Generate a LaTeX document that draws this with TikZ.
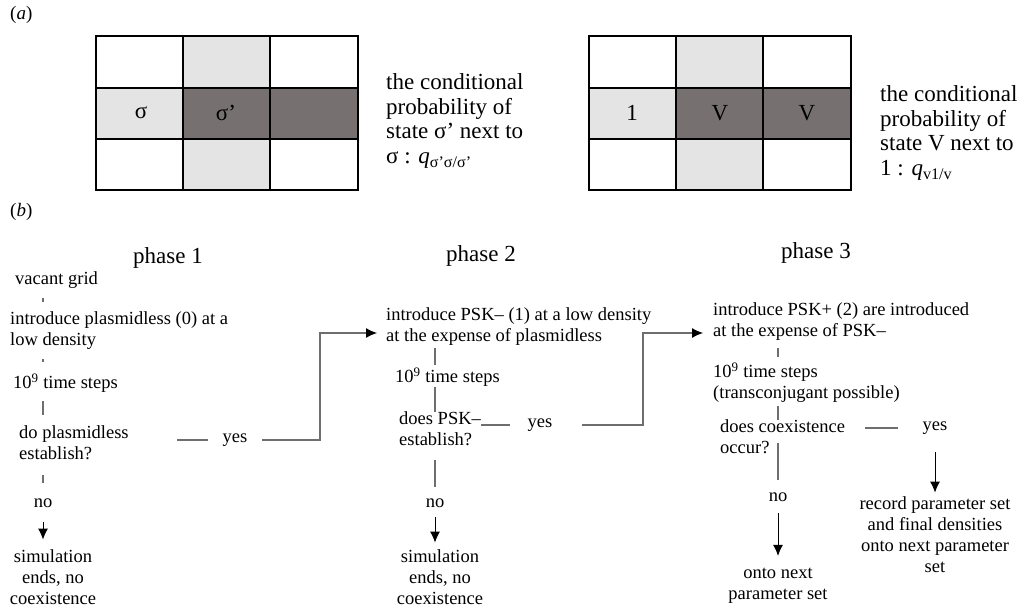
\documentclass[tikz,border=0pt]{standalone}
\usepackage{fontspec}
\setmainfont{Liberation Serif}
\usetikzlibrary{positioning, arrows.meta, calc}
\definecolor{cellLight}{HTML}{E4E4E4}
\definecolor{cellDark}{HTML}{767170}
\definecolor{wire}{HTML}{6E6E6E}

\begin{document}
\begin{tikzpicture}[x=1pt, y=-1pt,
    txt/.style={font=\fontsize{18.5}{21}\selectfont, inner sep=0pt, align=left},
    mid/.style={txt, align=center},
    big/.style={font=\fontsize{23}{24.5}\selectfont, inner sep=0pt, align=left},
    lbl/.style={font=\fontsize{19}{21}\selectfont, inner sep=0pt},
    gridline/.style={line width=1.4pt},
    wire/.style={draw=wire, line width=1.1pt},
    feed/.style={wire, -{Latex[length=11pt, width=10pt, color=black]}},
    down/.style={line width=1pt, -{Latex[length=11pt, width=10pt]}},
]
\useasboundingbox (0,0) rectangle (1024,607);

% (a) neighbourhood grids
\node[lbl, anchor=west] (lbla) at (10,15) {(\textit{a})};
\foreach \gx in {96,589} {
  \begin{scope}[shift={(\gx,36)}]
    \fill[cellLight] (87,0) rectangle (174,154);
    \fill[cellLight] (0,52) rectangle (87,103);
    \fill[cellDark] (87,52) rectangle (262,103);
    \draw[gridline] (0,0) rectangle (262,154);
    \foreach \cx in {87,174} \draw[gridline] (\cx,0) -- (\cx,154);
    \foreach \cy in {52,103} \draw[gridline] (0,\cy) -- (262,\cy);
  \end{scope}
}
\node[big] (sigA) at (141,113) {σ};
\node[big] (sigB) at (226,113) {σ’};
\node[big] (oneA) at (632,113) {1};
\node[big] (vA) at (720,113) {V};
\node[big] (vB) at (807,113) {V};
\node[big, anchor=west] (capA) at (386,121) {the conditional\\probability of\\state σ’ next to\\σ : \textit{q}\textsubscript{σ’σ/σ’}};
\node[big, anchor=west] (capB) at (880,133) {the conditional\\probability of\\state V next to\\1 : \textit{q}\textsubscript{v1/v}};

% (b) the three phases
\node[lbl, anchor=west] (lblb) at (10,212) {(\textit{b})};
\node[big] (ph1) at (168,258) {phase 1};
\node[big] (ph2) at (481,256) {phase 2};
\node[big] (ph3) at (816,253) {phase 3};

% phase 1
\node[txt, anchor=west] (vac) at (15,280) {vacant grid};
\node[txt, anchor=west] (intro1) at (10,331) {introduce plasmidless (0) at a\\low density};
\node[txt, anchor=west] (steps1) at (13,383) {10\textsuperscript{9} time steps};
\node[txt, anchor=west] (ask1) at (19,443) {do plasmidless\\establish?};
\node[txt] (yes1) at (235,440) {yes};
\node[txt] (no1) at (43,503) {no};
\node[mid] (end1) at (53,577) {simulation\\ends, no\\coexistence};

% phase 2
\node[txt, anchor=west] (intro2) at (386,327) {introduce PSK– (1) at a low density\\at the expense of plasmidless};
\node[txt, anchor=west] (steps2) at (395,377) {10\textsuperscript{9} time steps};
\node[txt, anchor=west] (ask2) at (399,429) {does PSK–\\establish?};
\node[txt] (yes2) at (540,425) {yes};
\node[txt] (no2) at (435,503) {no};
\node[mid] (end2) at (440,577) {simulation\\ends, no\\coexistence};

% phase 3
\node[txt, anchor=west] (intro3) at (713,322) {introduce PSK+ (2) are introduced\\at the expense of PSK–};
\node[txt, anchor=west] (steps3) at (713,383) {10\textsuperscript{9} time steps\\(transconjugant possible)};
\node[txt, anchor=west] (ask3) at (720,437) {does coexistence\\occur?};
\node[txt] (yes3) at (935,428) {yes};
\node[txt] (no3) at (778,497) {no};
\node[mid] (end3) at (778,586) {onto next\\parameter set};
\node[mid] (rec3) at (935,535) {record parameter set\\and final densities\\onto next parameter\\set};

% connectors, phase 1
\coordinate (c1) at (43,0);
\draw[wire, shorten <=9.5pt, shorten >=9.5pt] (vac.south -| c1) -- (intro1.north -| c1);
\draw[wire, shorten <=9pt, shorten >=11pt] (intro1.south -| c1) -- (steps1.north -| c1);
\draw[wire, shorten <=8.7pt, shorten >=11pt] (steps1.south -| c1) -- (ask1.north -| c1);
\draw[wire, shorten <=15pt, shorten >=15.7pt] (ask1.south -| c1) -- (no1.north);
\draw[down, shorten <=14.7pt, shorten >=9.7pt] (no1.south) -- (end1.north -| c1);
\draw[wire, shorten <=48.5pt, shorten >=14.6pt] (ask1.east |- yes1) -- (yes1.west);
\coordinate (r1) at (320,333);
\draw[feed, shorten <=14.6pt, shorten >=9pt] (yes1.east) -| (r1) -- (r1 -| intro2.west);

% connectors, phase 2
\coordinate (c2) at (435,0);
\draw[wire, shorten <=2pt, shorten >=2pt] (intro2.south -| c2) -- (steps2.north -| c2);
\draw[wire] (steps2.south -| c2) -- (ask2.north -| c2);
\draw[wire, shorten <=14pt, shorten >=11.7pt] (ask2.south -| c2) -- (no2.north);
\draw[down, shorten <=9.7pt, shorten >=6.7pt] (no2.south) -- (end2.north -| c2);
\draw[wire, shorten >=17pt] (ask2.east |- yes2) -- (yes2.west);
\coordinate (r2) at (643,333);
\draw[feed, shorten <=29.6pt, shorten >=10pt] (yes2.east) -| (r2) -- (r2 -| intro3.west);

% connectors, phase 3
\coordinate (c3) at (778,0);
\draw[wire, shorten <=7.2pt, shorten >=6.2pt] (intro3.south -| c3) -- (steps3.north -| c3);
\draw[wire, shorten <=3.2pt] (steps3.south -| c3) -- (ask3.north -| c3);
\draw[wire, shorten <=6pt, shorten >=12.8pt] (ask3 -| c3) -- (no3.north);
\draw[down, shorten <=11.7pt, shorten >=12.2pt] (no3.south) -- (end3.north);
\draw[wire, shorten <=20pt, shorten >=24.6pt] (ask3.east |- yes3) -- (yes3.west);
\draw[down, shorten <=17.7pt, shorten >=4.2pt] (yes3.south) -- (rec3.north);
\end{tikzpicture}
\end{document}
